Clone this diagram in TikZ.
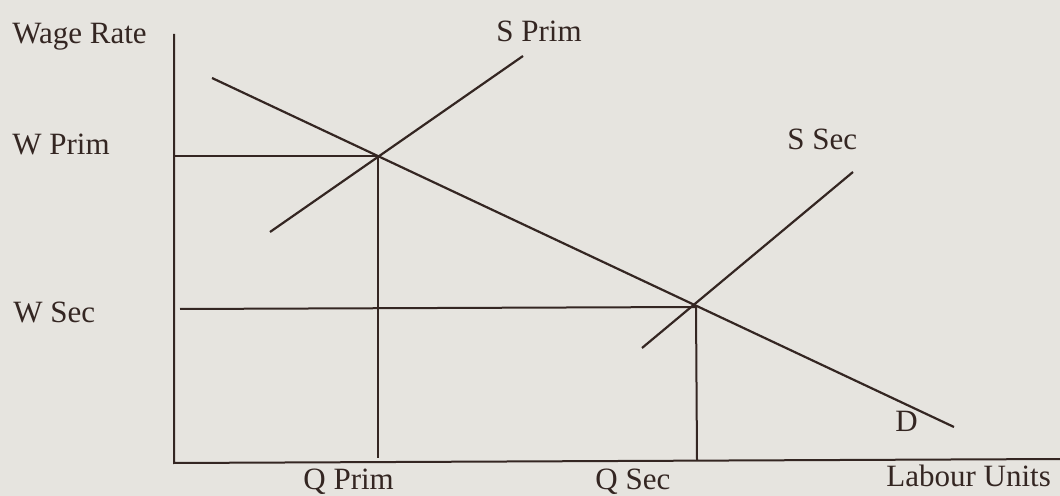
\documentclass[tikz,border=0pt]{standalone}
\usepackage{fontspec}
\setmainfont{Liberation Serif}
\definecolor{paper}{RGB}{230,228,223}
\definecolor{ink}{RGB}{52,38,34}
\tikzset{
  lbl/.style={anchor=base west, inner sep=0pt, text=ink, font=\fontsize{15.5}{18}\selectfont},
  curve/.style={draw=ink, line width=1.1pt},
  guide/.style={draw=ink, line width=1pt}
}

\begin{document}
\begin{tikzpicture}[x=0.5pt, y=-0.5pt]
% paper
\fill[paper] (0,0) rectangle (1060,496);
\useasboundingbox (0,0) rectangle (1060,496);
% key points
\coordinate (O)    at (174,463);
\coordinate (ytop) at (174,34);
\coordinate (xend) at (1062,459);
\coordinate (dA)   at (212,78);    % demand
\coordinate (dB)   at (954,427);
\coordinate (spA)  at (270,232);   % supply, primary
\coordinate (spB)  at (523,56);
\coordinate (ssA)  at (642,348);   % supply, secondary
\coordinate (ssB)  at (853,172);
\coordinate (eP)   at (378,156);   % equilibria
\coordinate (eS)   at (696,307);
\coordinate (wP)   at (174,156);
\coordinate (wS)   at (180,309);
\coordinate (qP)   at (378,458);
\coordinate (qS)   at (697,460);
% axes
\draw[guide] (ytop) -- (O) -- (xend);
% curves
\draw[curve] (dA) -- (dB);
\draw[curve] (spA) -- (spB);
\draw[curve] (ssA) -- (ssB);
% read-offs
\draw[guide] (wP) -- (eP) -- (qP);
\draw[guide] (wS) -- (eS) -- (qS);
% labels
\node[lbl] (wage)   at (12,44)   {Wage Rate};
\node[lbl] (sprim)  at (496,42)  {S Prim};
\node[lbl] (wprim)  at (12,155)  {W Prim};
\node[lbl] (ssec)   at (787,150) {S Sec};
\node[lbl] (wsec)   at (13,323)  {W Sec};
\node[lbl] (dlab)   at (895,431) {D};
\node[lbl] (qprim)  at (303,489) {Q Prim};
\node[lbl] (qsec)   at (595,489) {Q Sec};
\node[lbl] (labour) at (886,487) {Labour Units};
\end{tikzpicture}
\end{document}
